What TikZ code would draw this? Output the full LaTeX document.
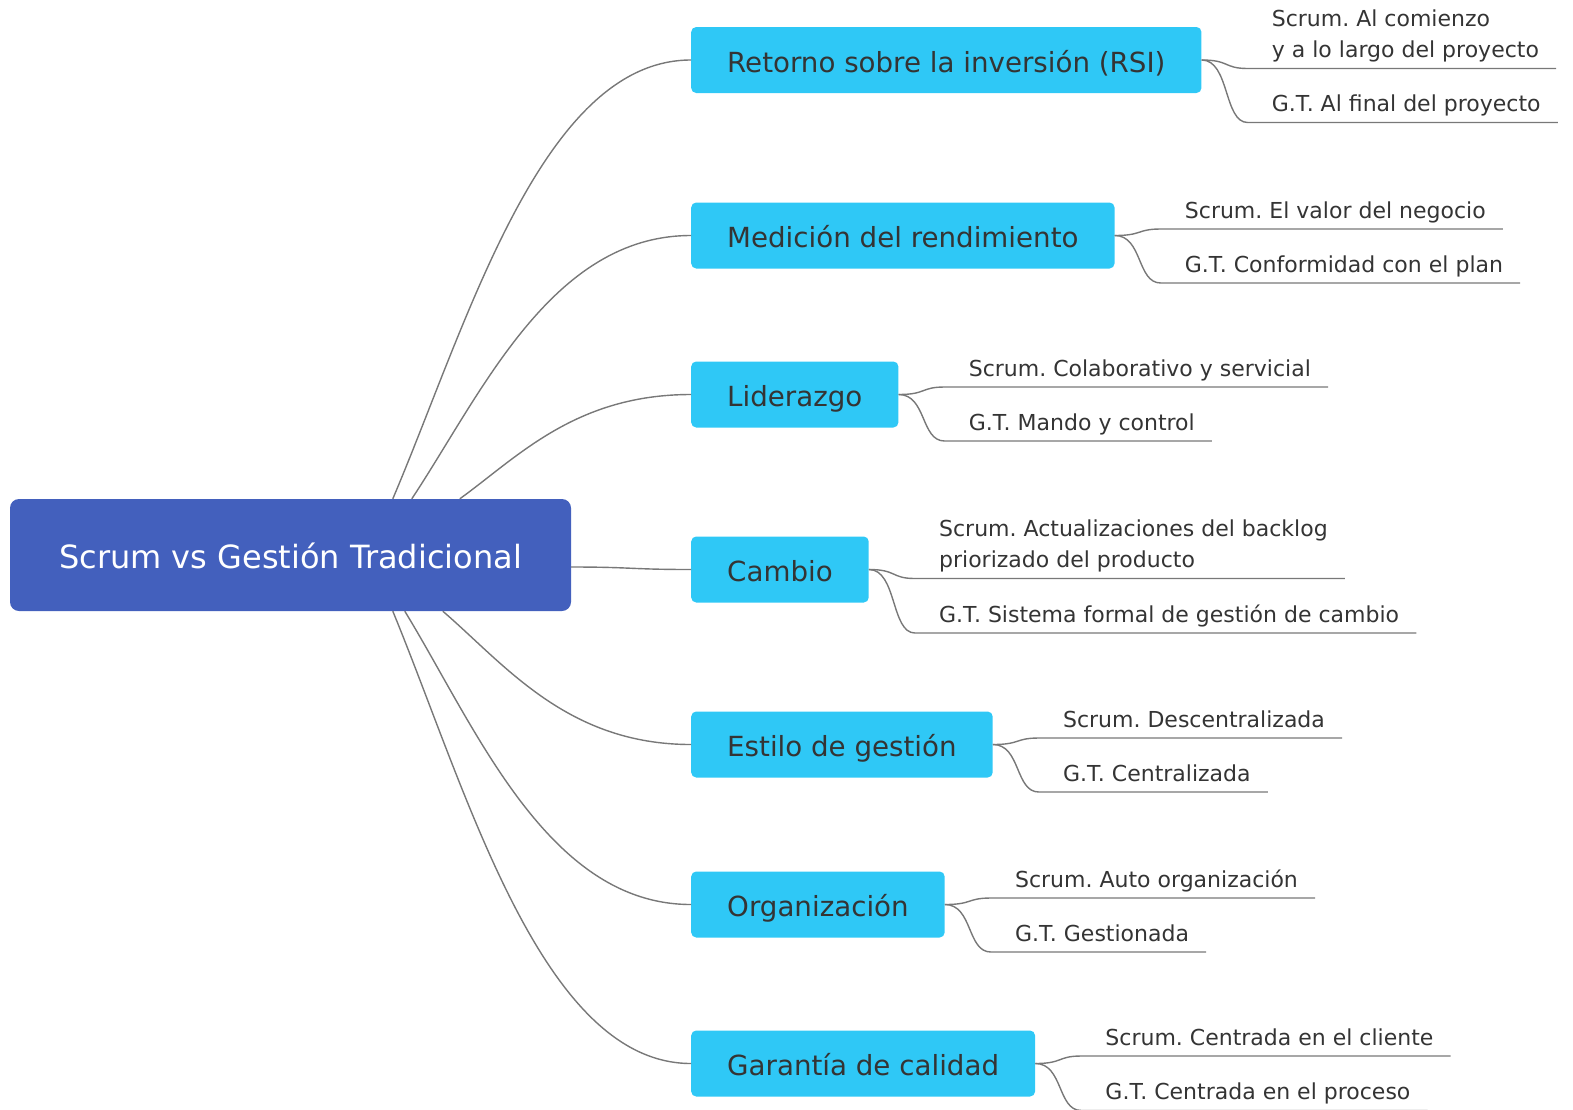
\documentclass[tikz,border=0pt]{standalone}
\usepackage{fontspec}
\setmainfont{DejaVu Sans}
\usetikzlibrary{calc}
\frenchspacing

\definecolor{rootblue}{RGB}{67,96,189}
\definecolor{topiccyan}{RGB}{47,200,246}
\definecolor{inkgray}{RGB}{52,52,52}
\definecolor{linkgray}{RGB}{120,120,120}

% two labelled sub-branches hanging off one topic box
% #1 topic name, #2 upper line offset, #3 upper text, #4 lower line offset, #5 lower text
\newcommand\leafpair[5]{%
  \node[leaf] (#1s) at ($(#1.east)+(70,#2-5.5)$) {#3};
  \coordinate (#1sa) at ($(#1s.south west)+(-24,5.5)$);
  \coordinate (#1sb) at ($(#1s.south east)+(17,5.5)$);
  \node[leaf] (#1g) at ($(#1.east)+(70,#4-5.5)$) {#5};
  \coordinate (#1ga) at ($(#1g.south west)+(-24,5.5)$);
  \coordinate (#1gb) at ($(#1g.south east)+(17,5.5)$);
  \draw[link] (#1.east) to[twig] (#1sa) -- (#1sb);
  \draw[link] (#1.east) to[twig] (#1ga) -- (#1gb);
}

\begin{document}
\begin{tikzpicture}[x=1pt,y=-1pt,
  rootbox/.style={fill=rootblue, rounded corners=9pt, text=white,
    font=\fontsize{32}{38}\selectfont, minimum width=561pt, minimum height=112pt,
    inner sep=0pt, text height=27.5pt, text depth=0pt},
  topic/.style={fill=topiccyan, rounded corners=5pt, text=inkgray,
    font=\fontsize{27.7}{33}\selectfont, minimum height=66pt,
    inner xsep=36pt, inner ysep=0pt, text height=24pt, text depth=0pt, anchor=west},
  leaf/.style={text=inkgray, font=\fontsize{22}{31}\selectfont, inner sep=0pt,
    text depth=5pt, anchor=south west, align=left},
  link/.style={draw=linkgray, line width=1.4pt},
  branch/.style={to path={let \p1=(\tikztostart), \p2=(\tikztotarget) in
    .. controls ({\x1+0.25*(\x2-\x1)},{\y1+0.4*(\y2-\y1)}) and ({0.5*(\x1+\x2)},\y2) .. (\tikztotarget)}},
  twig/.style={to path={.. controls +(28,0) and +(-24,0) .. (\tikztotarget)}}
]
\useasboundingbox (0,0) rectangle (1573,1109);
\clip (0,0) rectangle (1573,1109);

% central topic
\node[rootbox] (root) at (290.5,555) {Scrum vs Gestión Tradicional};

% main topics
\node[topic] (t1) at (691,60)     {Retorno sobre la inversión (RSI)};
\node[topic] (t2) at (691,235.5)  {Medición del rendimiento};
\node[topic] (t3) at (691,394.5)  {Liderazgo};
\node[topic] (t4) at (691,569.5)  {Cambio};
\node[topic] (t5) at (691,744.5)  {Estilo de gestión};
\node[topic] (t6) at (691,904.5)  {Organización};
\node[topic] (t7) at (691,1063.5) {Garantía de calidad};

% where the branches leave the central topic
\coordinate (r1) at ($(root.north west)+(383,0)$);
\coordinate (r2) at ($(root.north west)+(402,0)$);
\coordinate (r3) at ($(root.north west)+(450,0)$);
\coordinate (r4) at ($(root.east)+(0,12)$);
\coordinate (r5) at ($(root.south west)+(433,0)$);
\coordinate (r6) at ($(root.south west)+(395,0)$);
\coordinate (r7) at ($(root.south west)+(383,0)$);

\draw[link] (r1) to[branch] (t1.west);
\draw[link] (r2) to[branch] (t2.west);
\draw[link] (r3) to[branch] (t3.west);
\draw[link] (r4) .. controls +(60,0) and +(-60,0) .. (t4.west);
\draw[link] (r5) to[branch] (t5.west);
\draw[link] (r6) to[branch] (t6.west);
\draw[link] (r7) to[branch] (t7.west);

% sub-branches
\leafpair{t1}{8.5}{Scrum. Al comienzo\\y a lo largo del proyecto}{62.5}{G.T. Al final del proyecto}
\leafpair{t2}{-6.5}{Scrum. El valor del negocio}{47.5}{G.T. Conformidad con el plan}
\leafpair{t3}{-7.5}{Scrum. Colaborativo y servicial}{46.5}{G.T. Mando y control}
\leafpair{t4}{9}{Scrum. Actualizaciones del backlog\\priorizado del producto}{63.5}{G.T. Sistema formal de gestión de cambio}
\leafpair{t5}{-6.5}{Scrum. Descentralizada}{47.5}{G.T. Centralizada}
\leafpair{t6}{-6.5}{Scrum. Auto organización}{47.5}{G.T. Gestionada}
\leafpair{t7}{-7.5}{Scrum. Centrada en el cliente}{47}{G.T. Centrada en el proceso}
\end{tikzpicture}
\end{document}
